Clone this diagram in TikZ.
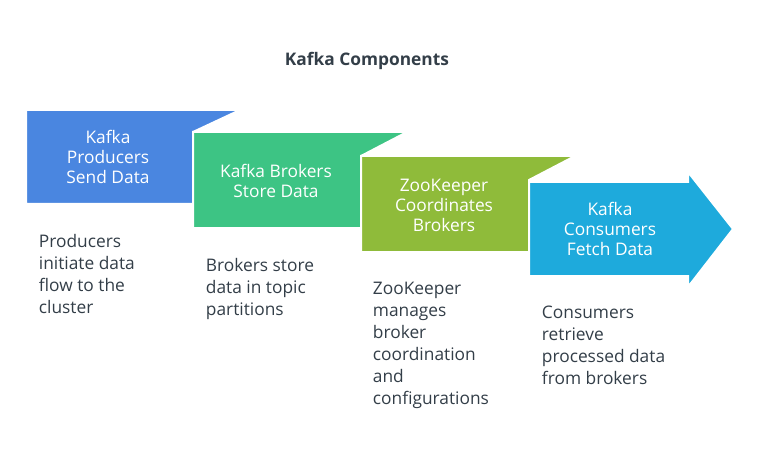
\documentclass[tikz,border=0pt]{standalone}
\usepackage{fontspec}
\setmainfont{Open Sans}
\tikzset{every picture/.style={line width=0.75pt}}
\definecolor{cBlue}{RGB}{74,134,224}
\definecolor{cGreen}{RGB}{61,196,132}
\definecolor{cOlive}{RGB}{143,187,58}
\definecolor{cCyan}{RGB}{30,170,220}
\definecolor{cText}{RGB}{51,62,72}
\tikzset{
  stepshape/.style={draw=white, line width=1.5pt},
  steptext/.style={text=white, align=center, font=\fontsize{13}{15}\selectfont},
  desc/.style={text=cText, align=left, anchor=north west, font=\fontsize{13}{16.5}\selectfont},
}
\begin{document}
\begin{tikzpicture}[x=0.75pt,y=0.75pt,yscale=-1,xscale=1]
\useasboundingbox (0,0) rectangle (759,470);

%Title
\node [text=cText, font=\bfseries\fontsize{13}{15}\selectfont] (title) at (367,61) {Kafka Components};

%Shape: Blue step
\draw [stepshape, fill=cBlue] (26,110) -- (240,110) -- (193,132) -- (193,204) -- (26,204) -- cycle ;
%Shape: Green step
\draw [stepshape, fill=cGreen] (193,132) -- (407,132) -- (361,156) -- (361,228) -- (193,228) -- cycle ;
%Shape: Olive step
\draw [stepshape, fill=cOlive] (361,156) -- (575,156) -- (529,180) -- (529,252) -- (361,252) -- cycle ;
%Shape: Cyan arrow
\draw [stepshape, fill=cCyan] (529,182) -- (688,182) -- (688,172) -- (733,229) -- (688,287) -- (688,276) -- (529,276) -- cycle ;

\node [steptext] (prod) at (108,157) {Kafka\\Producers\\Send Data};
\node [steptext] (brok) at (276,181) {Kafka Brokers\\Store Data};
\node [steptext] (zoo) at (444,205) {ZooKeeper\\Coordinates\\Brokers};
\node [steptext] (cons) at (610,229) {Kafka\\Consumers\\Fetch Data};

\node [desc] (prodd) at (34,229) {Producers\\initiate data\\flow to the\\cluster};
\node [desc] (brokd) at (201,253) {Brokers store\\data in topic\\partitions};
\node [desc] (zood) at (368,277) {ZooKeeper\\manages\\broker\\coordination\\and\\configurations};
\node [desc] (consd) at (537,301) {Consumers\\retrieve\\processed data\\from brokers};

\end{tikzpicture}
\end{document}
